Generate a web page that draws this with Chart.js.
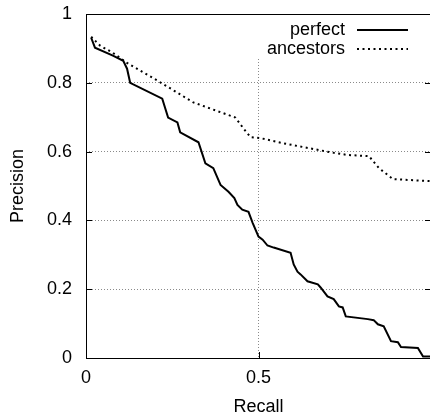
<!DOCTYPE html>
<html>
<head>
<meta charset="utf-8">
<script src="https://cdn.jsdelivr.net/npm/chart.js@4/dist/chart.umd.min.js"></script>
<style>
  html, body { margin: 0; padding: 0; background: #fff; overflow: hidden; }
  canvas { display: block; }
</style>
</head>
<body>
<canvas id="pr_chart" width="432" height="418" style="width:432px;height:418px"></canvas>
<script>
// ── data ─────────────────────────────────────────────────
const perfectRecall = [0.015, 0.026, 0.078, 0.108, 0.119, 0.128, 0.221, 0.238, 0.265, 0.273,
  0.326, 0.346, 0.369, 0.390, 0.413, 0.430, 0.439, 0.453, 0.471, 0.483,
  0.500, 0.512, 0.526, 0.544, 0.593, 0.602, 0.613, 0.622, 0.642, 0.672,
  0.680, 0.700, 0.718, 0.733, 0.744, 0.753, 0.817, 0.834, 0.846, 0.863,
  0.884, 0.904, 0.913, 0.962, 0.977, 1.0];
const perfectPrecision = [0.931, 0.902, 0.879, 0.864, 0.841, 0.800, 0.754, 0.699, 0.685, 0.656,
  0.627, 0.566, 0.552, 0.503, 0.483, 0.465, 0.445, 0.431, 0.425, 0.393,
  0.353, 0.344, 0.327, 0.321, 0.306, 0.272, 0.251, 0.243, 0.223, 0.214,
  0.205, 0.179, 0.171, 0.150, 0.147, 0.121, 0.113, 0.110, 0.098, 0.092,
  0.049, 0.046, 0.032, 0.029, 0.004, 0.004];

const ancestorsRecall = [0.015, 0.041, 0.078, 0.119, 0.221, 0.311, 0.433, 0.456, 0.477, 0.506,
  0.573, 0.709, 0.759, 0.820, 0.849, 0.890, 1.0];
const ancestorsPrecision = [0.934, 0.908, 0.887, 0.858, 0.798, 0.743, 0.699, 0.668, 0.642, 0.639,
  0.624, 0.598, 0.590, 0.587, 0.552, 0.520, 0.514];

const xTicks = [0, 0.5];
const yTicks = [0, 0.2, 0.4, 0.6, 0.8, 1];

const FONT_FAMILY = '"Liberation Sans", Arial, Helvetica, sans-serif';
const GRID_CLR    = "#8a8a8a";

const zip = (xs, ys) => xs.map((x, i) => ({ x, y: ys[i] }));

// ── frame, inward ticks and in-plot key (gnuplot style) ──
const framePlugin = {
  id: "frame",
  afterDatasetsDraw(chart) {
    const { ctx, chartArea: a, scales } = chart;
    ctx.save();
    ctx.setLineDash([]);
    ctx.strokeStyle = "#000";
    ctx.lineWidth = 1;
    ctx.strokeRect(a.left + 0.5, a.top + 0.5, a.right - a.left - 1, a.bottom - a.top);

    ctx.beginPath();
    yTicks.forEach((v) => {
      const py = Math.round(scales.y.getPixelForValue(v)) + 0.5;
      ctx.moveTo(a.left, py); ctx.lineTo(a.left + 6, py);
      ctx.moveTo(a.right, py); ctx.lineTo(a.right - 6, py);
    });
    xTicks.forEach((v) => {
      const px = Math.round(scales.x.getPixelForValue(v)) + 0.5;
      ctx.moveTo(px, a.bottom); ctx.lineTo(px, a.bottom - 6);
      ctx.moveTo(px, a.top); ctx.lineTo(px, a.top + 6);
    });
    ctx.stroke();

    // key
    ctx.fillStyle = "#fff";
    ctx.fillRect(255, a.top + 1, a.right - 256, 42);
    ctx.font = `18px ${FONT_FAMILY}`;
    ctx.textAlign = "right";
    ctx.textBaseline = "middle";
    chart.data.datasets.forEach((ds, i) => {
      const yy = 30 + i * 19;
      ctx.fillStyle = "#000";
      ctx.fillText(ds.label, 345, yy);
      ctx.beginPath();
      ctx.lineWidth = ds.borderWidth;
      ctx.setLineDash(ds.borderDash || []);
      ctx.moveTo(357, yy); ctx.lineTo(408, yy);
      ctx.stroke();
    });
    ctx.restore();
  },
};

new Chart(document.getElementById("pr_chart"), {
  type: "line",
  data: {
    datasets: [
      { label: "perfect",   data: zip(perfectRecall, perfectPrecision),
        borderColor: "#000", borderWidth: 2, pointRadius: 0, tension: 0, fill: false },
      { label: "ancestors", data: zip(ancestorsRecall, ancestorsPrecision),
        borderColor: "#000", borderWidth: 2, borderDash: [2, 3.5], pointRadius: 0, tension: 0, fill: false },
    ],
  },
  options: {
    responsive: false,
    animation: false,
    layout: { padding: { top: 14, right: 1, left: 0, bottom: 0 } },
    plugins: { legend: { display: false }, tooltip: { enabled: false } },
    scales: {
      x: {
        type: "linear", min: 0, max: 1,
        afterFit: (s) => { s.height = 60; s.paddingLeft = 0; s.paddingRight = 0; },
        afterBuildTicks: (s) => { s.ticks = xTicks.concat([1]).map((v) => ({ value: v })); },
        ticks: {
          color: "#000", font: { family: FONT_FAMILY, size: 18 }, padding: 9, maxRotation: 0,
          callback: (v) => (v === 1 ? "" : String(v)),
        },
        grid: {
          drawTicks: false, lineWidth: 1,
          color: (c) => (c.tick && c.tick.value === 0.5 ? GRID_CLR : "transparent"),
        },
        border: { display: false, dash: [1, 2] },
        title: { display: true, text: "Recall", color: "#000",
                 font: { family: FONT_FAMILY, size: 18 }, padding: { top: 0, bottom: 0 } },
      },
      y: {
        type: "linear", min: 0, max: 1,
        afterFit: (s) => { s.width = 86; s.paddingTop = 0; s.paddingBottom = 0; },
        afterBuildTicks: (s) => { s.ticks = yTicks.map((v) => ({ value: v })); },
        ticks: {
          color: "#000", font: { family: FONT_FAMILY, size: 18 }, padding: 14,
          callback: (v) => String(+v.toFixed(1)),
        },
        grid: {
          drawTicks: false, lineWidth: 1,
          color: (c) => (c.tick && c.tick.value > 0 && c.tick.value < 1 ? GRID_CLR : "transparent"),
        },
        border: { display: false, dash: [1, 2] },
        title: { display: true, text: "Precision", color: "#000",
                 font: { family: FONT_FAMILY, size: 18 }, padding: { top: 7, bottom: 0 } },
      },
    },
  },
  plugins: [framePlugin],
});
</script>
</body>
</html>
